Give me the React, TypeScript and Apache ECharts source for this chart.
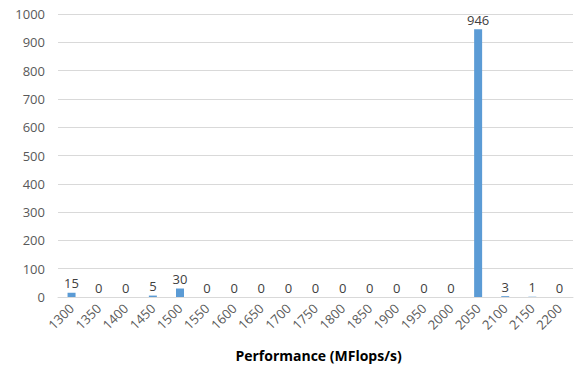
import React, { useEffect, useRef } from "react";
import * as echarts from "echarts";

const categories = [
  "1300", "1350", "1400", "1450", "1500", "1550", "1600", "1650", "1700", "1750",
  "1800", "1850", "1900", "1950", "2000", "2050", "2100", "2150", "2200",
];
const counts = [15, 0, 0, 5, 30, 0, 0, 0, 0, 0, 0, 0, 0, 0, 0, 946, 3, 1, 0];
const yTicks = { min: 0, max: 1000, interval: 100 };
const xTitle = "Performance (MFlops/s)";

const FONT = "'Open Sans', 'Noto Sans', sans-serif";

export default function App() {
  const ref = useRef<HTMLDivElement>(null);

  useEffect(() => {
    if (!ref.current) return;
    const chart = echarts.init(ref.current, undefined, { renderer: "svg" });
    chart.setOption({
      animation: false,
      grid: { left: 58, right: 1, top: 14, bottom: 68, containLabel: false },
      xAxis: {
        type: "category",
        data: categories,
        axisTick: { show: false },
        axisLine: { lineStyle: { color: "#d9d9d9", width: 1 } },
        axisLabel: {
          rotate: 45,
          interval: 0,
          margin: 9,
          color: "#595959",
          fontSize: 13,
          fontFamily: FONT,
        },
        name: xTitle,
        nameLocation: "middle",
        nameGap: 51,
        nameTextStyle: {
          color: "#000",
          fontSize: 14,
          fontWeight: "bold",
          fontFamily: FONT,
          padding: [0, 0, 0, 6],
        },
      },
      yAxis: {
        type: "value",
        min: yTicks.min,
        max: yTicks.max,
        interval: yTicks.interval,
        axisLine: { show: false },
        axisTick: { show: false },
        splitLine: { lineStyle: { color: "#d9d9d9", width: 1 } },
        axisLabel: {
          color: "#595959",
          fontSize: 13,
          fontFamily: FONT,
          margin: 13,
          formatter: (v: number) => String(v),
        },
      },
      series: [
        {
          type: "bar",
          data: counts,
          barWidth: 8,
          itemStyle: { color: "#5b9bd5" },
          label: {
            show: true,
            position: "top",
            distance: 3,
            color: "#404040",
            fontSize: 13,
            fontFamily: FONT,
          },
        },
      ],
    });
    return () => chart.dispose();
  }, []);

  return (
    <div
      ref={ref}
      style={{ position: "fixed", left: 0, top: 0, width: 574, height: 367, background: "#fff" }}
    />
  );
}
